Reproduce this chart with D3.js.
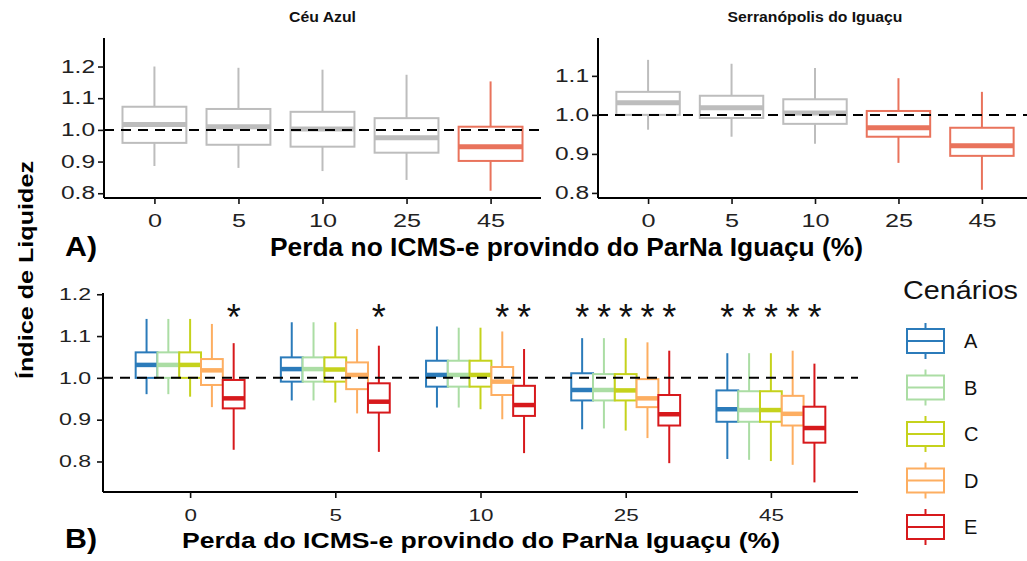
<!DOCTYPE html>
<html>
<head>
<meta charset="utf-8">
<script src="https://cdn.jsdelivr.net/npm/d3@7"></script>
<style>
  html, body { margin: 0; padding: 0; background: #ffffff; }
  svg { display: block; font-family: "Liberation Sans", Arial, Helvetica, sans-serif; }
</style>
</head>
<body>
<svg id="chart" width="1027" height="561"></svg>
<script>
// ---------------- DATA ----------------
const lossCategories = ["0", "5", "10", "25", "45"];
const topPanelTitles = ["Céu Azul", "Serranópolis do Iguaçu"];
// each entry: [lower whisker, Q1, median, Q3, upper whisker]
const ceuAzulStats = [
  [0.886, 0.959, 1.017, 1.073, 1.200],
  [0.880, 0.953, 1.010, 1.066, 1.196],
  [0.870, 0.947, 1.003, 1.057, 1.190],
  [0.842, 0.928, 0.975, 1.037, 1.174],
  [0.808, 0.902, 0.947, 1.010, 1.153]
];
const ceuAzulSignif = [false, false, false, false, true];
const serranopolisStats = [
  [0.962, 1.000, 1.031, 1.059, 1.141],
  [0.944, 0.992, 1.018, 1.049, 1.131],
  [0.926, 0.977, 1.005, 1.040, 1.120],
  [0.877, 0.944, 0.967, 1.010, 1.094],
  [0.808, 0.895, 0.921, 0.967, 1.059]
];
const serranopolisSignif = [false, false, false, true, true];
const topTicksLeft = [0.8, 0.9, 1.0, 1.1, 1.2];
const topTicksRight = [0.8, 0.9, 1.0, 1.1];

const scenarios = ["A", "B", "C", "D", "E"];
const scenarioColors = ["#2b7bba", "#abdda4", "#c5d21c", "#fdae61", "#d7191c"];
// per scenario, per loss category: [lower, Q1, median, Q3, upper]
const scenarioA = [
  [0.961, 1.000, 1.031, 1.061, 1.141],
  [0.946, 0.991, 1.021, 1.049, 1.133],
  [0.929, 0.979, 1.007, 1.041, 1.123],
  [0.877, 0.946, 0.971, 1.011, 1.095],
  [0.806, 0.895, 0.925, 0.970, 1.059]
];
const scenarioB = [
  [0.961, 1.000, 1.031, 1.061, 1.141],
  [0.946, 0.991, 1.021, 1.049, 1.133],
  [0.929, 0.979, 1.007, 1.041, 1.120],
  [0.879, 0.946, 0.971, 1.009, 1.095],
  [0.804, 0.895, 0.923, 0.968, 1.059]
];
const scenarioC = [
  [0.955, 1.000, 1.031, 1.061, 1.141],
  [0.941, 0.991, 1.020, 1.049, 1.133],
  [0.925, 0.979, 1.007, 1.041, 1.120],
  [0.874, 0.946, 0.970, 1.009, 1.095],
  [0.801, 0.895, 0.923, 0.968, 1.059]
];
const scenarioD = [
  [0.930, 0.983, 1.018, 1.045, 1.129],
  [0.915, 0.973, 1.007, 1.037, 1.117],
  [0.901, 0.959, 0.991, 1.026, 1.111],
  [0.856, 0.930, 0.951, 0.997, 1.085],
  [0.792, 0.886, 0.914, 0.957, 1.065]
];
const scenarioE = [
  [0.828, 0.927, 0.951, 0.995, 1.083],
  [0.823, 0.917, 0.943, 0.987, 1.077],
  [0.820, 0.909, 0.935, 0.981, 1.069],
  [0.796, 0.886, 0.913, 0.959, 1.065],
  [0.750, 0.845, 0.880, 0.931, 1.034]
];
// scenarios marked with * in each loss category
const starredScenarios = [
  ["E"],
  ["E"],
  ["D", "E"],
  ["A", "B", "C", "D", "E"],
  ["A", "B", "C", "D", "E"]
];
const bottomTicks = [0.8, 0.9, 1.0, 1.1, 1.2];

// ---------------- DRAWING ----------------
const svg = d3.select("#chart");
const GREY = "#bdbdbd";
const SALMON = "#e9735c";
const TICK_STRETCH = 1.4;

function drawBox(g, cx, w, s, y, color, lw, mw) {
  const [lo, q1, med, q3, hi] = s;
  g.append("line").attr("x1", cx).attr("x2", cx).attr("y1", y(hi)).attr("y2", y(q3))
    .attr("stroke", color).attr("stroke-width", lw);
  g.append("line").attr("x1", cx).attr("x2", cx).attr("y1", y(q1)).attr("y2", y(lo))
    .attr("stroke", color).attr("stroke-width", lw);
  g.append("rect").attr("x", cx - w / 2).attr("y", y(q3)).attr("width", w)
    .attr("height", y(q1) - y(q3)).attr("fill", "white")
    .attr("stroke", color).attr("stroke-width", lw);
  g.append("line").attr("x1", cx - w / 2).attr("x2", cx + w / 2)
    .attr("y1", y(med)).attr("y2", y(med))
    .attr("stroke", color).attr("stroke-width", mw);
}

function styleAxis(g, size) {
  g.select(".domain").attr("stroke", "#000").attr("stroke-width", 2);
  g.selectAll(".tick line").attr("stroke", "#111").attr("stroke-width", 1.6);
  g.selectAll(".tick text").attr("fill", "#222").attr("font-size", size)
    .attr("font-family", '"Liberation Sans", Arial, sans-serif')
    .each(function () {
      const w = this.getComputedTextLength();
      d3.select(this).attr("textLength", w * TICK_STRETCH).attr("lengthAdjust", "spacingAndGlyphs");
    });
}

function label(x, y, str, opts) {
  const t = svg.append("text").attr("x", x).attr("y", y)
    .attr("font-size", opts.size).attr("fill", opts.fill || "#000")
    .attr("font-weight", opts.weight || "normal")
    .attr("text-anchor", opts.anchor || "start").text(str);
  if (opts.width) t.attr("textLength", opts.width).attr("lengthAdjust", "spacingAndGlyphs");
  return t;
}

// ---- top panels ----
const topPanels = [
  { title: topPanelTitles[0], stats: ceuAzulStats, signif: ceuAzulSignif,
    x0: 104, x1: 541, dom: [0.785, 1.29], ticks: topTicksLeft, titleW: 67 },
  { title: topPanelTitles[1], stats: serranopolisStats, signif: serranopolisSignif,
    x0: 598, x1: 1032, dom: [0.787, 1.197], ticks: topTicksRight, titleW: 175 }
];
const topY0 = 198, topY1 = 38;

topPanels.forEach(p => {
  const x = d3.scalePoint().domain(lossCategories).range([p.x0, p.x1]).padding(0.6);
  const y = d3.scaleLinear().domain(p.dom).range([topY0, topY1]);
  const g = svg.append("g");
  const bw = x.step() * 0.76;
  lossCategories.forEach((c, i) => {
    const col = p.signif[i] ? SALMON : GREY;
    drawBox(g, x(c), bw, p.stats[i], y, col, 2, 5);
  });
  g.append("line").attr("x1", p.x0).attr("x2", p.x1).attr("y1", y(1)).attr("y2", y(1))
    .attr("stroke", "#000").attr("stroke-width", 2).attr("stroke-dasharray", "10,7");
  const ax = svg.append("g").attr("transform", `translate(0,${topY0})`)
    .call(d3.axisBottom(x).tickSize(6).tickSizeOuter(0).tickPadding(10));
  styleAxis(ax, 18);
  ax.select(".domain").attr("d", `M${p.x0},0H${p.x1}`);
  const ay = svg.append("g").attr("transform", `translate(${p.x0},0)`)
    .call(d3.axisLeft(y).tickValues(p.ticks).tickFormat(d3.format(".1f")).tickSize(6).tickSizeOuter(0).tickPadding(3));
  styleAxis(ay, 17.5);
  ay.select(".domain").attr("d", `M0,${topY0}V${topY1}`);
  label((p.x0 + p.x1) / 2, 22, p.title, { size: 14, weight: "bold", anchor: "middle", fill: "#111", width: p.titleW });
});

label(65, 256, "A)", { size: 28, weight: "bold", width: 32 });
label(270, 256, "Perda no ICMS-e provindo do ParNa Iguaçu (%)", { size: 25, weight: "bold", width: 593 });

// ---- bottom panel ----
const bx0 = 103, bx1 = 858, by0 = 492, by1 = 293;
const xb = d3.scalePoint().domain(lossCategories).range([bx0, bx1]).padding(0.6);
const yb = d3.scaleLinear().domain([0.727, 1.203]).range([by0, by1]);
const groupW = xb.step() * 0.75;
const xs = d3.scaleBand().domain(scenarios).range([-groupW / 2, groupW / 2]).padding(0);
const scenarioStats = [scenarioA, scenarioB, scenarioC, scenarioD, scenarioE];
const colorOf = d3.scaleOrdinal().domain(scenarios).range(scenarioColors);

const gb = svg.append("g");
lossCategories.forEach((c, i) => {
  scenarios.forEach((s, j) => {
    const cx = xb(c) + xs(s) + xs.bandwidth() / 2;
    drawBox(gb, cx, xs.bandwidth(), scenarioStats[j][i], yb, colorOf(s), 2, 4.5);
  });
  starredScenarios[i].forEach(s => {
    const cx = xb(c) + xs(s) + xs.bandwidth() / 2;
    gb.append("text").attr("x", cx).attr("y", 330).attr("text-anchor", "middle")
      .attr("font-size", 36).attr("fill", "#111").text("*");
  });
});
gb.append("line").attr("x1", bx0).attr("x2", bx1).attr("y1", yb(1)).attr("y2", yb(1))
  .attr("stroke", "#000").attr("stroke-width", 2).attr("stroke-dasharray", "10,7");

const axb = svg.append("g").attr("transform", `translate(0,${by0})`)
  .call(d3.axisBottom(xb).tickSize(6).tickSizeOuter(0).tickPadding(12));
styleAxis(axb, 16);
axb.select(".domain").attr("d", `M${bx0},0H${bx1}`);
const ayb = svg.append("g").attr("transform", `translate(${bx0},0)`)
  .call(d3.axisLeft(yb).tickValues(bottomTicks).tickFormat(d3.format(".1f")).tickSize(6).tickSizeOuter(0).tickPadding(6));
styleAxis(ayb, 16.5);
ayb.select(".domain").attr("d", `M0,${by0}V${by1}`);

label(65, 548, "B)", { size: 27, weight: "bold", width: 32 });
label(182, 548, "Perda do ICMS-e provindo do ParNa Iguaçu (%)", { size: 22, weight: "bold", width: 598 });

// y title
svg.append("text").attr("transform", "translate(33,270) rotate(-90)")
  .attr("text-anchor", "middle").attr("font-weight", "bold").attr("font-size", 21)
  .attr("textLength", 218).attr("lengthAdjust", "spacingAndGlyphs")
  .attr("fill", "#000").text("Índice de Liquidez");

// ---- legend ----
const lg = svg.append("g");
lg.append("text").attr("x", 903).attr("y", 299).attr("font-size", 26).attr("fill", "#111")
  .attr("textLength", 115).attr("lengthAdjust", "spacingAndGlyphs").text("Cenários");
const ly = d3.scalePoint().domain(scenarios).range([341, 527]);
scenarios.forEach(s => {
  const cy = ly(s), col = colorOf(s);
  lg.append("line").attr("x1", 925.5).attr("x2", 925.5).attr("y1", cy - 18).attr("y2", cy + 18)
    .attr("stroke", col).attr("stroke-width", 2);
  lg.append("rect").attr("x", 907).attr("y", cy - 12).attr("width", 37).attr("height", 24)
    .attr("fill", "white").attr("stroke", col).attr("stroke-width", 2);
  lg.append("line").attr("x1", 907).attr("x2", 944).attr("y1", cy).attr("y2", cy)
    .attr("stroke", col).attr("stroke-width", 2);
  lg.append("text").attr("x", 964).attr("y", cy + 7).attr("font-size", 20).attr("fill", "#111").text(s);
});
</script>
</body>
</html>
